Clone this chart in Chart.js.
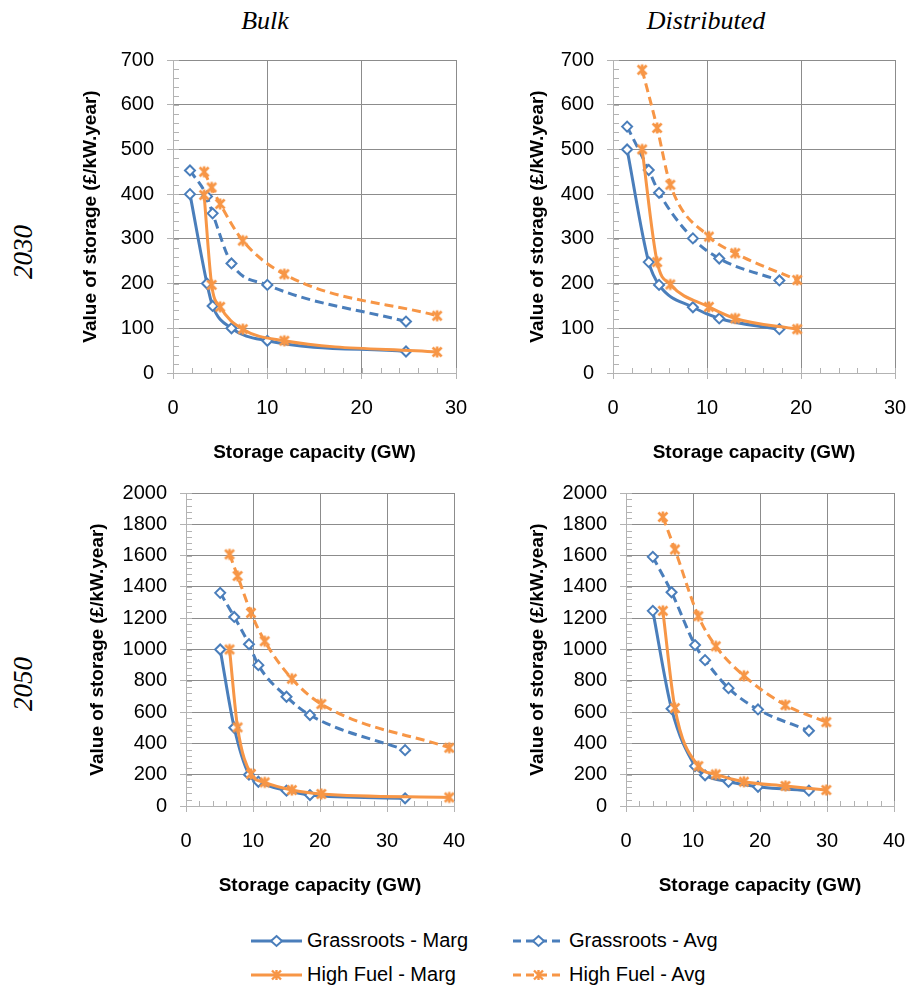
<!DOCTYPE html>
<html>
<head>
<meta charset="utf-8">
<script src="https://cdn.jsdelivr.net/npm/chart.js@4.4.1/dist/chart.umd.min.js"></script>
<style>
  html, body { margin: 0; padding: 0; background: #fff; }
  body { width: 911px; height: 990px; position: relative; overflow: hidden; font-family: "Liberation Sans", Arial, sans-serif; }
  canvas.panel { position: absolute; }
  .head { position: absolute; font-family: "Liberation Serif", "Times New Roman", serif; font-style: italic; font-size: 26px; color: #000; white-space: nowrap; transform: translate(-50%, -50%); }
  .rowlab { position: absolute; font-family: "Liberation Serif", "Times New Roman", serif; font-style: italic; font-size: 27px; color: #000; white-space: nowrap; transform: translate(-50%, -50%) rotate(-90deg); }
  .leg { position: absolute; font-size: 20px; color: #000; white-space: nowrap; display: flex; align-items: center; }
  .leg svg { margin-right: 5px; }
</style>
</head>
<body>
<div class="head" style="left:265px; top:21px;">Bulk</div>
<div class="head" style="left:706px; top:21px;">Distributed</div>
<div class="rowlab" style="left:23px; top:252px;">2030</div>
<div class="rowlab" style="left:23px; top:684px;">2050</div>

<canvas class="panel" id="p1"></canvas>
<canvas class="panel" id="p2"></canvas>
<canvas class="panel" id="p3"></canvas>
<canvas class="panel" id="p4"></canvas>

<div class="leg" style="left:251px; top:929px;">
  <svg width="51" height="22"><line x1="0" y1="11" x2="51" y2="11" stroke="#4a7ebb" stroke-width="3"/><polygon points="25.5,6 31,11 25.5,16 20,11" fill="#fff" stroke="#4a7ebb" stroke-width="2"/></svg>Grassroots - Marg
</div>
<div class="leg" style="left:513px; top:929px;">
  <svg width="51" height="22"><line x1="0" y1="11" x2="51" y2="11" stroke="#4a7ebb" stroke-width="3" stroke-dasharray="8,5"/><polygon points="25.5,6 31,11 25.5,16 20,11" fill="#fff" stroke="#4a7ebb" stroke-width="2"/></svg>Grassroots - Avg
</div>
<div class="leg" style="left:251px; top:963px;">
  <svg width="51" height="22"><line x1="0" y1="11" x2="51" y2="11" stroke="#f79646" stroke-width="3"/><path d="M21,6.5 L30,15.5 M30,6.5 L21,15.5 M25.5,6 L25.5,16" stroke="#f79646" stroke-width="2.4"/></svg>High Fuel - Marg
</div>
<div class="leg" style="left:513px; top:963px;">
  <svg width="51" height="22"><line x1="0" y1="11" x2="51" y2="11" stroke="#f79646" stroke-width="3" stroke-dasharray="8,5"/><path d="M21,6.5 L30,15.5 M30,6.5 L21,15.5 M25.5,6 L25.5,16" stroke="#f79646" stroke-width="2.4"/></svg>High Fuel - Avg
</div>

<script>
// ---------------- DATA ----------------
const seriesNames = ["Grassroots - Marg", "Grassroots - Avg", "High Fuel - Marg", "High Fuel - Avg"];

// Bulk, 2030
const bulk2030GrassrootsCap = [1.8, 3.6, 4.2, 6.2, 10.0, 24.7];
const bulk2030GrassrootsMarg = [400, 200, 150, 100, 72, 48];
const bulk2030GrassrootsAvg = [453, 395, 357, 245, 197, 115];
const bulk2030HighFuelCap = [3.3, 4.1, 5.0, 7.4, 11.8, 28.0];
const bulk2030HighFuelMarg = [398, 197, 148, 98, 72, 47];
const bulk2030HighFuelAvg = [450, 415, 378, 296, 221, 128];

// Distributed, 2030
const dist2030GrassrootsCap = [1.5, 3.8, 4.9, 8.5, 11.3, 17.7];
const dist2030GrassrootsMarg = [500, 248, 197, 147, 122, 98];
const dist2030GrassrootsAvg = [551, 454, 403, 301, 256, 207];
const dist2030HighFuelCap = [3.1, 4.7, 6.1, 10.2, 13.0, 19.6];
const dist2030HighFuelMarg = [500, 248, 198, 148, 122, 98];
const dist2030HighFuelAvg = [678, 548, 421, 305, 268, 208];

// Bulk, 2050
const bulk2050GrassrootsCap = [5.1, 7.2, 9.4, 10.8, 15.0, 18.5, 32.7];
const bulk2050GrassrootsMarg = [1000, 500, 200, 155, 98, 70, 49];
const bulk2050GrassrootsAvg = [1362, 1208, 1034, 900, 698, 581, 357];
const bulk2050HighFuelCap = [6.5, 7.7, 9.7, 11.75, 15.8, 20.2, 39.3];
const bulk2050HighFuelMarg = [1000, 502, 205, 151, 102, 77, 55];
const bulk2050HighFuelAvg = [1608, 1470, 1234, 1053, 813, 651, 372];

// Distributed, 2050
const dist2050GrassrootsCap = [4.0, 6.8, 10.3, 11.8, 15.3, 19.7, 27.3];
const dist2050GrassrootsMarg = [1247, 621, 255, 196, 155, 123, 98];
const dist2050GrassrootsAvg = [1592, 1366, 1028, 932, 753, 617, 481];
const dist2050HighFuelCap = [5.5, 7.3, 10.8, 13.4, 17.6, 23.8, 29.9];
const dist2050HighFuelMarg = [1247, 626, 255, 202, 155, 128, 102];
const dist2050HighFuelAvg = [1847, 1639, 1213, 1021, 832, 645, 536];

// axis ranges / tick labels
const xTicks2030 = [0, 10, 20, 30];
const yTicks2030 = [0, 100, 200, 300, 400, 500, 600, 700];
const xTicks2050 = [0, 10, 20, 30, 40];
const yTicks2050 = [0, 200, 400, 600, 800, 1000, 1200, 1400, 1600, 1800, 2000];

const xTitle = "Storage capacity (GW)";
const yTitle = "Value of storage (£/kW.year)";

// ---------------- STYLE ----------------
const BLUE = "#4a7ebb";
const ORANGE = "#f79646";
const GRID = "#8c8c8c";
const AXIS = "#b3b3b3";

// Orange "star" marker (X + vertical bar), drawn once on a small canvas
function makeStar(color) {
  const c = document.createElement("canvas");
  c.width = 14; c.height = 14;
  const g = c.getContext("2d");
  g.strokeStyle = color; g.lineWidth = 2.6; g.lineCap = "butt";
  g.beginPath();
  g.moveTo(2.5, 2.5); g.lineTo(11.5, 11.5);
  g.moveTo(11.5, 2.5); g.lineTo(2.5, 11.5);
  g.moveTo(7, 1.5); g.lineTo(7, 12.5);
  g.stroke();
  return c;
}
const starMarker = makeStar(ORANGE);

const minorTicks = {
  id: "minorTicks",
  beforeDatasetsDraw(chart, args, opts) {
    const { ctx, chartArea } = chart;
    const xs = chart.scales.x, ys = chart.scales.y;
    ctx.save();
    ctx.strokeStyle = AXIS;
    ctx.lineWidth = 1;
    ctx.beginPath();
    for (let v = xs.min; v <= xs.max + 1e-9; v += opts.x) {
      const px = Math.round(xs.getPixelForValue(v)) + 0.5;
      ctx.moveTo(px, chartArea.bottom);
      ctx.lineTo(px, chartArea.bottom - 5);
    }
    for (let v = ys.min; v <= ys.max + 1e-9; v += opts.y) {
      const py = Math.round(ys.getPixelForValue(v)) + 0.5;
      ctx.moveTo(chartArea.left, py);
      ctx.lineTo(chartArea.left + 6, py);
    }
    ctx.stroke();
    ctx.restore();
  }
};

function series(cap, vals) {
  return cap.map((x, i) => ({ x: x, y: vals[i] }));
}

function dataset(label, cap, vals, color, dashed, marker, order) {
  const isStar = marker === "star";
  return {
    label: label,
    data: series(cap, vals),
    showLine: true,
    borderColor: color,
    backgroundColor: "#ffffff",
    borderWidth: 3,
    borderDash: dashed ? [9, 5] : [],
    cubicInterpolationMode: "monotone",
    pointStyle: isStar ? starMarker : "rectRot",
    pointRadius: isStar ? 7 : 5,
    pointBorderWidth: 2,
    pointBorderColor: color,
    pointBackgroundColor: "#ffffff",
    order: order
  };
}

function panel(id, rect, xTickVals, yTickVals, minor, yTitlePad, sets) {
  const PADL = 100, PADT = 30, PADR = 30, XH = 95;
  const w = rect.R - rect.L + PADL + PADR;
  const h = rect.B - rect.T + PADT + XH;
  const cv = document.getElementById(id);
  cv.width = w; cv.height = h;
  cv.style.left = (rect.L - PADL) + "px";
  cv.style.top = (rect.T - PADT) + "px";
  cv.style.width = w + "px"; cv.style.height = h + "px";

  const tickFont = { family: "'Liberation Sans', Arial, sans-serif", size: 20 };
  const titleFont = { family: "'Liberation Sans', Arial, sans-serif", size: 19, weight: "bold", lineHeight: 1.2 };
  const gridColor = (c) => (c.tick && c.tick.value === 0) ? "rgba(0,0,0,0)" : GRID;

  new Chart(cv, {
    type: "scatter",
    data: { datasets: sets },
    options: {
      responsive: false,
      animation: false,
      devicePixelRatio: 1,
      layout: { padding: { left: 0, top: PADT, right: PADR, bottom: 0 } },
      plugins: { legend: { display: false }, tooltip: { enabled: false }, minorTicks: minor },
      scales: {
        x: {
          type: "linear",
          min: xTickVals[0], max: xTickVals[xTickVals.length - 1],
          afterBuildTicks: (s) => { s.ticks = xTickVals.map(v => ({ value: v })); },
          afterFit: (s) => { s.height = XH; },
          ticks: { font: tickFont, color: "#000", padding: 17, maxRotation: 0, callback: v => String(v) },
          grid: { color: gridColor, tickColor: AXIS, tickLength: 6, lineWidth: 1 },
          border: { color: AXIS, width: 1 },
          title: { display: true, text: xTitle, font: titleFont, color: "#000", padding: { top: 0, bottom: 3.8 } }
        },
        y: {
          type: "linear",
          min: yTickVals[0], max: yTickVals[yTickVals.length - 1],
          afterBuildTicks: (s) => { s.ticks = yTickVals.map(v => ({ value: v })); },
          afterFit: (s) => { s.width = PADL; },
          ticks: { font: tickFont, color: "#000", padding: 13, callback: v => String(v) },
          grid: { color: gridColor, tickColor: AXIS, tickLength: 6, lineWidth: 1 },
          border: { color: AXIS, width: 1 },
          title: { display: true, text: yTitle, font: titleFont, color: "#000", padding: { top: yTitlePad, bottom: 0 } }
        }
      }
    },
    plugins: [minorTicks]
  });
}

panel("p1", { L: 173, R: 456, T: 60, B: 373 }, xTicks2030, yTicks2030, { x: 2, y: 20 }, 6.6, [
  dataset(seriesNames[0], bulk2030GrassrootsCap, bulk2030GrassrootsMarg, BLUE, false, "diamond", 4),
  dataset(seriesNames[1], bulk2030GrassrootsCap, bulk2030GrassrootsAvg, BLUE, true, "diamond", 3),
  dataset(seriesNames[2], bulk2030HighFuelCap, bulk2030HighFuelMarg, ORANGE, false, "star", 2),
  dataset(seriesNames[3], bulk2030HighFuelCap, bulk2030HighFuelAvg, ORANGE, true, "star", 1)
]);
panel("p2", { L: 613, R: 895, T: 60, B: 373 }, xTicks2030, yTicks2030, { x: 2, y: 20 }, 13.6, [
  dataset(seriesNames[0], dist2030GrassrootsCap, dist2030GrassrootsMarg, BLUE, false, "diamond", 4),
  dataset(seriesNames[1], dist2030GrassrootsCap, dist2030GrassrootsAvg, BLUE, true, "diamond", 3),
  dataset(seriesNames[2], dist2030HighFuelCap, dist2030HighFuelMarg, ORANGE, false, "star", 2),
  dataset(seriesNames[3], dist2030HighFuelCap, dist2030HighFuelAvg, ORANGE, true, "star", 1)
]);
panel("p3", { L: 186, R: 454, T: 493, B: 806 }, xTicks2050, yTicks2050, { x: 2, y: 40 }, 0, [
  dataset(seriesNames[0], bulk2050GrassrootsCap, bulk2050GrassrootsMarg, BLUE, false, "diamond", 4),
  dataset(seriesNames[1], bulk2050GrassrootsCap, bulk2050GrassrootsAvg, BLUE, true, "diamond", 3),
  dataset(seriesNames[2], bulk2050HighFuelCap, bulk2050HighFuelMarg, ORANGE, false, "star", 2),
  dataset(seriesNames[3], bulk2050HighFuelCap, bulk2050HighFuelAvg, ORANGE, true, "star", 1)
]);
panel("p4", { L: 626, R: 894, T: 493, B: 806 }, xTicks2050, yTicks2050, { x: 2, y: 40 }, 0.6, [
  dataset(seriesNames[0], dist2050GrassrootsCap, dist2050GrassrootsMarg, BLUE, false, "diamond", 4),
  dataset(seriesNames[1], dist2050GrassrootsCap, dist2050GrassrootsAvg, BLUE, true, "diamond", 3),
  dataset(seriesNames[2], dist2050HighFuelCap, dist2050HighFuelMarg, ORANGE, false, "star", 2),
  dataset(seriesNames[3], dist2050HighFuelCap, dist2050HighFuelAvg, ORANGE, true, "star", 1)
]);
</script>
</body>
</html>
